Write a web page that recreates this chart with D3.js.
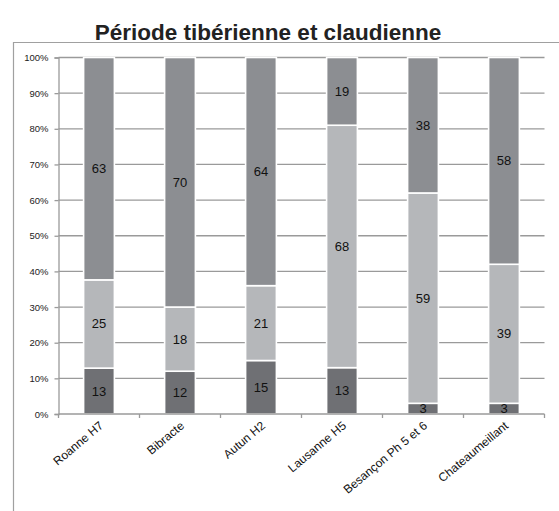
<!DOCTYPE html>
<html>
<head>
<meta charset="utf-8">
<script src="https://cdn.jsdelivr.net/npm/d3@7"></script>
<style>
  html, body { margin: 0; padding: 0; background: #fff; }
  svg { display: block; font-family: "Liberation Sans", Arial, sans-serif; }
</style>
</head>
<body>
<svg id="chart" width="559" height="511"></svg>
<script>
// Sites and the three ceramic groups (counts shown as percentage stacks)
const sites = ["Roanne H7", "Bibracte", "Autun H2", "Lausanne H5", "Besançon Ph 5 et 6", "Chateaumeillant"];
const groupBottom = [13, 12, 15, 13, 3, 3];
const groupMiddle = [25, 18, 21, 68, 59, 39];
const groupTop    = [63, 70, 64, 19, 38, 58];
const yTickValues = [0, 0.1, 0.2, 0.3, 0.4, 0.5, 0.6, 0.7, 0.8, 0.9, 1];
const chartTitle = "Période tibérienne et claudienne";

const seriesKeys = ["bottom", "middle", "top"];
const colors = { bottom: "#6f7074", middle: "#b5b7ba", top: "#8c8e92" };

const rows = sites.map((s, i) => ({
  site: s, bottom: groupBottom[i], middle: groupMiddle[i], top: groupTop[i]
}));

const svg = d3.select("#chart");
const margin = { left: 58.5, right: 14.5, top: 57.5, bottom: 97 };
const W = 559, H = 511;

// Outer frame (top and left edges)
svg.append("path")
  .attr("d", `M13.5,${H} L13.5,42.5 L${W},42.5`)
  .attr("fill", "none").attr("stroke", "#a0a0a0").attr("stroke-width", 1.2);

svg.append("text")
  .attr("x", 268).attr("y", 39.5)
  .attr("text-anchor", "middle")
  .attr("font-size", 22.5).attr("font-weight", "bold").attr("fill", "#222")
  .text(chartTitle);

const x = d3.scaleBand().domain(sites)
  .range([margin.left, W - margin.right])
  .paddingInner(0.62).paddingOuter(0.31);
const y = d3.scaleLinear().domain([0, 1]).range([H - margin.bottom, margin.top]);

// Horizontal gridlines
svg.append("g").selectAll("line").data(yTickValues.slice(1)).join("line")
  .attr("x1", margin.left).attr("x2", W - margin.right)
  .attr("y1", d => y(d)).attr("y2", d => y(d))
  .attr("stroke", "#9a9a9a").attr("stroke-width", 1.3);

// Y axis
const yAxis = svg.append("g")
  .attr("transform", `translate(${margin.left},0)`)
  .call(d3.axisLeft(y).tickValues(yTickValues).tickFormat(d3.format(".0%")).tickSize(4).tickPadding(6));
yAxis.select(".domain").attr("stroke", "#9a9a9a").attr("stroke-width", 1.3);
yAxis.selectAll(".tick line").attr("stroke", "#9a9a9a").attr("stroke-width", 1.3);
yAxis.selectAll(".tick text").attr("font-size", 9.5).attr("fill", "#222")
  .attr("font-family", "'Liberation Sans', Arial, sans-serif");

// Stacked percentage bars
const stacked = d3.stack().keys(seriesKeys).offset(d3.stackOffsetExpand)(rows);

const bars = svg.append("g");
stacked.forEach(layer => {
  bars.append("g").selectAll("rect").data(layer).join("rect")
    .attr("x", d => x(d.data.site))
    .attr("width", x.bandwidth())
    .attr("y", d => y(d[1]))
    .attr("height", d => y(d[0]) - y(d[1]))
    .attr("fill", colors[layer.key])
    .attr("stroke", "#fff").attr("stroke-width", 1.6);
});

// Segment value labels
stacked.forEach(layer => {
  svg.append("g").selectAll("text").data(layer).join("text")
    .attr("x", d => x(d.data.site) + x.bandwidth() / 2)
    .attr("y", d => (y(d[0]) + y(d[1])) / 2 + 4.5)
    .attr("text-anchor", "middle")
    .attr("font-size", 13).attr("fill", "#111")
    .text(d => d.data[layer.key]);
});

// X axis with category boundary ticks
const x0 = margin.left, x1 = W - margin.right;
const step = (x1 - x0) / sites.length;
const xAxis = svg.append("g");
xAxis.append("line")
  .attr("x1", x0).attr("x2", x1).attr("y1", y(0)).attr("y2", y(0))
  .attr("stroke", "#9a9a9a").attr("stroke-width", 1.3);
xAxis.selectAll(".bt").data(d3.range(sites.length + 1)).join("line")
  .attr("class", "bt")
  .attr("x1", i => x0 + i * step).attr("x2", i => x0 + i * step)
  .attr("y1", y(0)).attr("y2", y(0) + 4)
  .attr("stroke", "#9a9a9a").attr("stroke-width", 1.3);
xAxis.selectAll("text").data(sites).join("text")
  .attr("transform", d => `translate(${x(d) + x.bandwidth() / 2 + 5},${y(0) + 13}) rotate(-40)`)
  .attr("text-anchor", "end")
  .attr("font-size", 12).attr("fill", "#111")
  .text(d => d);
</script>
</body>
</html>
